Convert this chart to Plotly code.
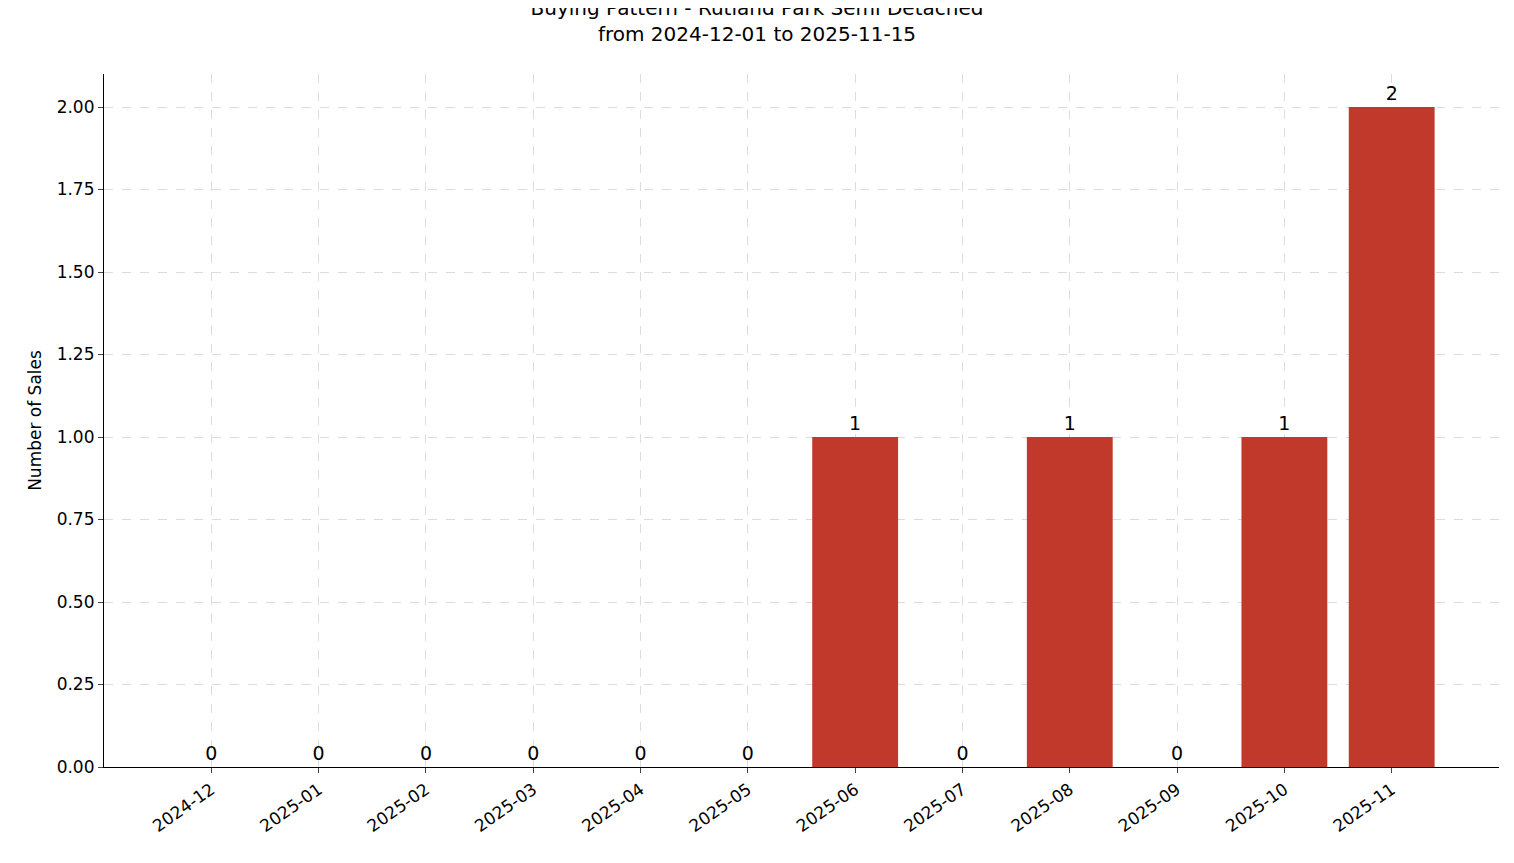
import plotly.graph_objects as go

months = ["2024-12","2025-01","2025-02","2025-03","2025-04","2025-05",
          "2025-06","2025-07","2025-08","2025-09","2025-10","2025-11"]
sales = [0,0,0,0,0,0,1,0,1,0,1,2]
yticks = [0,0.25,0.5,0.75,1.0,1.25,1.5,1.75,2.0]

fig = go.Figure(go.Bar(
    x=list(range(len(months))), y=sales, width=0.8,
    marker=dict(color="#c0392b", line=dict(width=0)),
    text=[str(v) for v in sales], textposition="outside",
    textfont=dict(size=19, color="black"), cliponaxis=False))

fig.update_layout(
    width=1498, height=847, plot_bgcolor="white", paper_bgcolor="white",
    margin=dict(l=96, r=7, t=66, b=88),
    font=dict(family="DejaVu Sans", color="black", size=17),
    title=dict(text="Buying Pattern - Rutland Park Semi Detached<br>from 2024-12-01 to 2025-11-15",
               x=0.5, xanchor="center", y=0.992, yanchor="top", font=dict(size=20)),
    showlegend=False)
fig.update_xaxes(range=[-1.0, 12.0], tickvals=list(range(len(months))), ticktext=months,
                 tickangle=-35, showline=True, linecolor="black", linewidth=1.2,
                 ticks="outside", ticklen=5, tickfont=dict(size=17),
                 showgrid=True, gridcolor="#dcdcdc", griddash="dash", zeroline=False)
fig.update_yaxes(range=[0, 2.1], tickvals=yticks, ticktext=[f"{v:.2f}" for v in yticks],
                 showline=True, linecolor="black", linewidth=1.2,
                 ticks="outside", ticklen=5, tickfont=dict(size=17),
                 title=dict(text="Number of Sales", font=dict(size=17), standoff=10),
                 showgrid=True, gridcolor="#dcdcdc", griddash="dash", zeroline=False)
fig.write_html("out.html")
